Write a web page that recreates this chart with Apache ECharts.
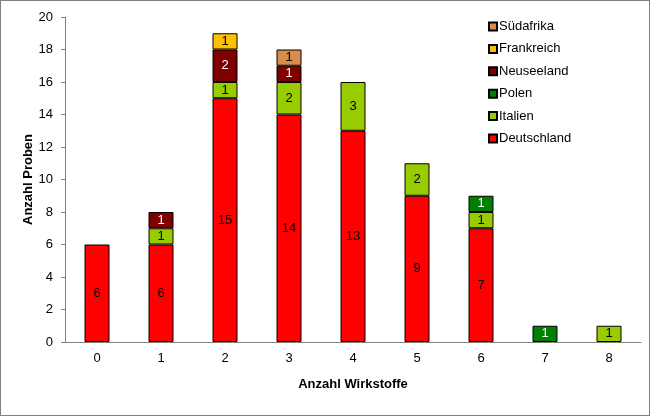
<!DOCTYPE html>
<html><head><meta charset="utf-8">
<script src="https://cdn.jsdelivr.net/npm/echarts@6/dist/echarts.min.js"></script>
<style>html,body{margin:0;padding:0;background:#fff}#wrap{width:648px;height:414px;border:1px solid #808080}#c{width:648px;height:414px}</style>
</head><body><div id="wrap"><div id="c"></div></div>
<script>
const categories = ['0','1','2','3','4','5','6','7','8'];
const deutschland = [6,6,15,14,13,9,7,0,0];
const italien     = [0,1,1,2,3,2,1,0,1];
const polen       = [0,0,0,0,0,0,1,1,0];
const neuseeland  = [0,1,2,1,0,0,0,0,0];
const frankreich  = [0,0,1,0,0,0,0,0,0];
const suedafrika  = [0,0,0,1,0,0,0,0,0];
const seriesDefs = [
  ['Deutschland', deutschland, '#FF0000', '#000'],
  ['Italien', italien, '#99CC00', '#000'],
  ['Polen', polen, '#008000', '#fff'],
  ['Neuseeland', neuseeland, '#800000', '#fff'],
  ['Frankreich', frankreich, '#FFC000', '#000'],
  ['Südafrika', suedafrika, '#D98C4C', '#000']
];
const font = 'Liberation Sans, Arial, sans-serif';
const chart = echarts.init(document.getElementById('c'));
chart.setOption({
  animation: false,
  textStyle: {fontFamily: font},
  grid: {left: 64, right: 8, top: 16, bottom: 73},
  legend: {
    orient: 'vertical', left: 482, top: 14, itemWidth: 8, itemHeight: 8, itemGap: 9.4,
    icon: 'rect',
    data: ['Südafrika','Frankreich','Neuseeland','Polen','Italien','Deutschland'],
    textStyle: {fontSize: 13, color: '#000', fontFamily: font, padding: [0,0,0,-3]}
  },
  xAxis: {
    type: 'category', data: categories,
    name: 'Anzahl Wirkstoffe', nameLocation: 'middle', nameGap: 36, nameMoveOverlap: false,
    nameTextStyle: {fontWeight: 'bold', fontSize: 13, color: '#000', fontFamily: font},
    axisLine: {lineStyle: {color: '#808080'}},
    axisTick: {lineStyle: {color: '#000'}, length: 4},
    axisLabel: {color: '#000', fontSize: 13, margin: 10, fontFamily: font}
  },
  yAxis: {
    type: 'value', min: 0, max: 20, interval: 2,
    name: 'Anzahl Proben', nameLocation: 'middle', nameGap: 30, nameMoveOverlap: false,
    nameTextStyle: {fontWeight: 'bold', fontSize: 13, color: '#000', fontFamily: font},
    axisLine: {show: true, lineStyle: {color: '#808080'}},
    axisTick: {show: true, lineStyle: {color: '#808080'}, length: 4},
    splitLine: {show: false},
    axisLabel: {color: '#000', fontSize: 13, margin: 12, fontFamily: font}
  },
  series: seriesDefs.map(([name, vals, color, txt]) => ({
    name, type: 'bar', stack: 'total', barWidth: 25,
    data: vals.map(v => v === 0 ? null : v),
    itemStyle: {color, borderColor: '#000', borderWidth: 1},
    label: {show: true, position: 'inside', color: txt, fontSize: 13, fontFamily: font,
            textBorderWidth: 0, textBorderColor: 'transparent'}
  }))
});
</script></body></html>
